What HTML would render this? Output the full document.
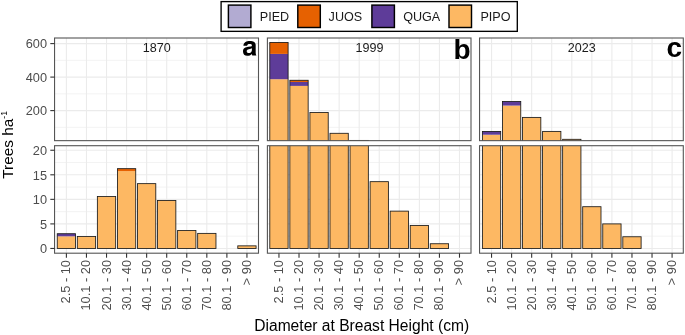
<!DOCTYPE html>
<html><head><meta charset="utf-8"><style>
html,body{margin:0;padding:0;background:#fff;width:685px;height:335px;overflow:hidden;}
svg{display:block;will-change:transform;font-family:"Liberation Sans",sans-serif;}
</style></head><body>
<svg width="685" height="335" viewBox="0 0 685 335">
<defs>
<clipPath id="ct0"><rect x="54.55" y="38.0" width="203.95" height="102.65"/></clipPath>
<clipPath id="cb0"><rect x="54.55" y="145.7" width="203.95" height="107.5"/></clipPath>
<clipPath id="ct1"><rect x="267.4" y="38.0" width="203.60" height="102.65"/></clipPath>
<clipPath id="cb1"><rect x="267.4" y="145.7" width="203.60" height="107.5"/></clipPath>
<clipPath id="ct2"><rect x="479.55" y="38.0" width="203.75" height="102.65"/></clipPath>
<clipPath id="cb2"><rect x="479.55" y="145.7" width="203.75" height="107.5"/></clipPath>
</defs>
<rect width="685" height="335" fill="#fff"/>
<line x1="54.55" x2="258.5" y1="127.35" y2="127.35" stroke="#EBEBEB" stroke-width="0.6"/><line x1="54.55" x2="258.5" y1="93.85" y2="93.85" stroke="#EBEBEB" stroke-width="0.6"/><line x1="54.55" x2="258.5" y1="60.35" y2="60.35" stroke="#EBEBEB" stroke-width="0.6"/><line x1="54.55" x2="258.5" y1="110.60" y2="110.60" stroke="#EBEBEB" stroke-width="1.1"/><line x1="54.55" x2="258.5" y1="77.10" y2="77.10" stroke="#EBEBEB" stroke-width="1.1"/><line x1="54.55" x2="258.5" y1="43.60" y2="43.60" stroke="#EBEBEB" stroke-width="1.1"/><line x1="66.40" x2="66.40" y1="38.0" y2="140.65" stroke="#EBEBEB" stroke-width="1.1"/><line x1="86.46" x2="86.46" y1="38.0" y2="140.65" stroke="#EBEBEB" stroke-width="1.1"/><line x1="106.52" x2="106.52" y1="38.0" y2="140.65" stroke="#EBEBEB" stroke-width="1.1"/><line x1="126.58" x2="126.58" y1="38.0" y2="140.65" stroke="#EBEBEB" stroke-width="1.1"/><line x1="146.64" x2="146.64" y1="38.0" y2="140.65" stroke="#EBEBEB" stroke-width="1.1"/><line x1="166.70" x2="166.70" y1="38.0" y2="140.65" stroke="#EBEBEB" stroke-width="1.1"/><line x1="186.76" x2="186.76" y1="38.0" y2="140.65" stroke="#EBEBEB" stroke-width="1.1"/><line x1="206.82" x2="206.82" y1="38.0" y2="140.65" stroke="#EBEBEB" stroke-width="1.1"/><line x1="226.88" x2="226.88" y1="38.0" y2="140.65" stroke="#EBEBEB" stroke-width="1.1"/><line x1="246.94" x2="246.94" y1="38.0" y2="140.65" stroke="#EBEBEB" stroke-width="1.1"/>
<g clip-path="url(#ct0)"><rect x="57.25" y="143.69" width="18.3" height="1.96" fill="#FDB863"/><rect x="57.25" y="143.60" width="18.3" height="0.09" fill="#5E3C99"/><rect x="57.25" y="143.60" width="18.3" height="2.05" fill="none" stroke="#1A1A1A" stroke-width="0.85"/><rect x="77.31" y="143.69" width="18.3" height="1.96" fill="#FDB863"/><rect x="77.31" y="143.69" width="18.3" height="1.96" fill="none" stroke="#1A1A1A" stroke-width="0.85"/><rect x="97.37" y="142.33" width="18.3" height="3.32" fill="#FDB863"/><rect x="97.37" y="142.33" width="18.3" height="3.32" fill="none" stroke="#1A1A1A" stroke-width="0.85"/><rect x="117.43" y="141.46" width="18.3" height="4.19" fill="#FDB863"/><rect x="117.43" y="141.38" width="18.3" height="0.08" fill="#E66101"/><rect x="117.43" y="141.38" width="18.3" height="4.27" fill="none" stroke="#1A1A1A" stroke-width="0.85"/><rect x="137.49" y="141.89" width="18.3" height="3.76" fill="#FDB863"/><rect x="137.49" y="141.89" width="18.3" height="3.76" fill="none" stroke="#1A1A1A" stroke-width="0.85"/><rect x="157.55" y="142.46" width="18.3" height="3.19" fill="#FDB863"/><rect x="157.55" y="142.46" width="18.3" height="3.19" fill="none" stroke="#1A1A1A" stroke-width="0.85"/><rect x="177.61" y="143.49" width="18.3" height="2.16" fill="#FDB863"/><rect x="177.61" y="143.49" width="18.3" height="2.16" fill="none" stroke="#1A1A1A" stroke-width="0.85"/><rect x="197.67" y="143.59" width="18.3" height="2.06" fill="#FDB863"/><rect x="197.67" y="143.59" width="18.3" height="2.06" fill="none" stroke="#1A1A1A" stroke-width="0.85"/><rect x="237.79" y="144.01" width="18.3" height="1.64" fill="#FDB863"/><rect x="237.79" y="144.01" width="18.3" height="1.64" fill="none" stroke="#1A1A1A" stroke-width="0.85"/></g>
<line x1="54.55" x2="258.5" y1="236.17" y2="236.17" stroke="#EBEBEB" stroke-width="0.6"/><line x1="54.55" x2="258.5" y1="211.62" y2="211.62" stroke="#EBEBEB" stroke-width="0.6"/><line x1="54.55" x2="258.5" y1="187.07" y2="187.07" stroke="#EBEBEB" stroke-width="0.6"/><line x1="54.55" x2="258.5" y1="162.52" y2="162.52" stroke="#EBEBEB" stroke-width="0.6"/><line x1="54.55" x2="258.5" y1="248.45" y2="248.45" stroke="#EBEBEB" stroke-width="1.1"/><line x1="54.55" x2="258.5" y1="223.90" y2="223.90" stroke="#EBEBEB" stroke-width="1.1"/><line x1="54.55" x2="258.5" y1="199.35" y2="199.35" stroke="#EBEBEB" stroke-width="1.1"/><line x1="54.55" x2="258.5" y1="174.80" y2="174.80" stroke="#EBEBEB" stroke-width="1.1"/><line x1="54.55" x2="258.5" y1="150.25" y2="150.25" stroke="#EBEBEB" stroke-width="1.1"/><line x1="66.40" x2="66.40" y1="145.7" y2="253.2" stroke="#EBEBEB" stroke-width="1.1"/><line x1="86.46" x2="86.46" y1="145.7" y2="253.2" stroke="#EBEBEB" stroke-width="1.1"/><line x1="106.52" x2="106.52" y1="145.7" y2="253.2" stroke="#EBEBEB" stroke-width="1.1"/><line x1="126.58" x2="126.58" y1="145.7" y2="253.2" stroke="#EBEBEB" stroke-width="1.1"/><line x1="146.64" x2="146.64" y1="145.7" y2="253.2" stroke="#EBEBEB" stroke-width="1.1"/><line x1="166.70" x2="166.70" y1="145.7" y2="253.2" stroke="#EBEBEB" stroke-width="1.1"/><line x1="186.76" x2="186.76" y1="145.7" y2="253.2" stroke="#EBEBEB" stroke-width="1.1"/><line x1="206.82" x2="206.82" y1="145.7" y2="253.2" stroke="#EBEBEB" stroke-width="1.1"/><line x1="226.88" x2="226.88" y1="145.7" y2="253.2" stroke="#EBEBEB" stroke-width="1.1"/><line x1="246.94" x2="246.94" y1="145.7" y2="253.2" stroke="#EBEBEB" stroke-width="1.1"/>
<g clip-path="url(#cb0)"><rect x="57.25" y="236.32" width="18.3" height="12.13" fill="#FDB863"/><rect x="57.25" y="233.72" width="18.3" height="2.60" fill="#5E3C99"/><rect x="57.25" y="233.72" width="18.3" height="14.73" fill="none" stroke="#1A1A1A" stroke-width="0.85"/><rect x="77.31" y="236.52" width="18.3" height="11.93" fill="#FDB863"/><rect x="77.31" y="236.52" width="18.3" height="11.93" fill="none" stroke="#1A1A1A" stroke-width="0.85"/><rect x="97.37" y="196.55" width="18.3" height="51.90" fill="#FDB863"/><rect x="97.37" y="196.55" width="18.3" height="51.90" fill="none" stroke="#1A1A1A" stroke-width="0.85"/><rect x="117.43" y="171.12" width="18.3" height="77.33" fill="#FDB863"/><rect x="117.43" y="168.66" width="18.3" height="2.46" fill="#E66101"/><rect x="117.43" y="168.66" width="18.3" height="79.79" fill="none" stroke="#1A1A1A" stroke-width="0.85"/><rect x="137.49" y="183.64" width="18.3" height="64.81" fill="#FDB863"/><rect x="137.49" y="183.64" width="18.3" height="64.81" fill="none" stroke="#1A1A1A" stroke-width="0.85"/><rect x="157.55" y="200.43" width="18.3" height="48.02" fill="#FDB863"/><rect x="157.55" y="200.43" width="18.3" height="48.02" fill="none" stroke="#1A1A1A" stroke-width="0.85"/><rect x="177.61" y="230.48" width="18.3" height="17.97" fill="#FDB863"/><rect x="177.61" y="230.48" width="18.3" height="17.97" fill="none" stroke="#1A1A1A" stroke-width="0.85"/><rect x="197.67" y="233.38" width="18.3" height="15.07" fill="#FDB863"/><rect x="197.67" y="233.38" width="18.3" height="15.07" fill="none" stroke="#1A1A1A" stroke-width="0.85"/><rect x="237.79" y="245.85" width="18.3" height="2.60" fill="#FDB863"/><rect x="237.79" y="245.85" width="18.3" height="2.60" fill="none" stroke="#1A1A1A" stroke-width="0.85"/></g>
<rect x="54.55" y="38.0" width="203.95" height="102.65" fill="none" stroke="#555555" stroke-width="1.1"/>
<rect x="54.55" y="145.7" width="203.95" height="107.5" fill="none" stroke="#555555" stroke-width="1.1"/>
<line x1="66.40" x2="66.40" y1="253.2" y2="257.7" stroke="#333333" stroke-width="1.1"/><line x1="86.46" x2="86.46" y1="253.2" y2="257.7" stroke="#333333" stroke-width="1.1"/><line x1="106.52" x2="106.52" y1="253.2" y2="257.7" stroke="#333333" stroke-width="1.1"/><line x1="126.58" x2="126.58" y1="253.2" y2="257.7" stroke="#333333" stroke-width="1.1"/><line x1="146.64" x2="146.64" y1="253.2" y2="257.7" stroke="#333333" stroke-width="1.1"/><line x1="166.70" x2="166.70" y1="253.2" y2="257.7" stroke="#333333" stroke-width="1.1"/><line x1="186.76" x2="186.76" y1="253.2" y2="257.7" stroke="#333333" stroke-width="1.1"/><line x1="206.82" x2="206.82" y1="253.2" y2="257.7" stroke="#333333" stroke-width="1.1"/><line x1="226.88" x2="226.88" y1="253.2" y2="257.7" stroke="#333333" stroke-width="1.1"/><line x1="246.94" x2="246.94" y1="253.2" y2="257.7" stroke="#333333" stroke-width="1.1"/>
<line x1="267.4" x2="471.0" y1="127.35" y2="127.35" stroke="#EBEBEB" stroke-width="0.6"/><line x1="267.4" x2="471.0" y1="93.85" y2="93.85" stroke="#EBEBEB" stroke-width="0.6"/><line x1="267.4" x2="471.0" y1="60.35" y2="60.35" stroke="#EBEBEB" stroke-width="0.6"/><line x1="267.4" x2="471.0" y1="110.60" y2="110.60" stroke="#EBEBEB" stroke-width="1.1"/><line x1="267.4" x2="471.0" y1="77.10" y2="77.10" stroke="#EBEBEB" stroke-width="1.1"/><line x1="267.4" x2="471.0" y1="43.60" y2="43.60" stroke="#EBEBEB" stroke-width="1.1"/><line x1="278.95" x2="278.95" y1="38.0" y2="140.65" stroke="#EBEBEB" stroke-width="1.1"/><line x1="299.01" x2="299.01" y1="38.0" y2="140.65" stroke="#EBEBEB" stroke-width="1.1"/><line x1="319.07" x2="319.07" y1="38.0" y2="140.65" stroke="#EBEBEB" stroke-width="1.1"/><line x1="339.13" x2="339.13" y1="38.0" y2="140.65" stroke="#EBEBEB" stroke-width="1.1"/><line x1="359.19" x2="359.19" y1="38.0" y2="140.65" stroke="#EBEBEB" stroke-width="1.1"/><line x1="379.25" x2="379.25" y1="38.0" y2="140.65" stroke="#EBEBEB" stroke-width="1.1"/><line x1="399.31" x2="399.31" y1="38.0" y2="140.65" stroke="#EBEBEB" stroke-width="1.1"/><line x1="419.37" x2="419.37" y1="38.0" y2="140.65" stroke="#EBEBEB" stroke-width="1.1"/><line x1="439.43" x2="439.43" y1="38.0" y2="140.65" stroke="#EBEBEB" stroke-width="1.1"/><line x1="459.49" x2="459.49" y1="38.0" y2="140.65" stroke="#EBEBEB" stroke-width="1.1"/>
<g clip-path="url(#ct1)"><rect x="269.80" y="79.19" width="18.3" height="66.46" fill="#FDB863"/><rect x="269.80" y="53.90" width="18.3" height="25.29" fill="#5E3C99"/><rect x="269.80" y="42.43" width="18.3" height="11.47" fill="#E66101"/><rect x="269.80" y="42.43" width="18.3" height="103.22" fill="none" stroke="#1A1A1A" stroke-width="0.85"/><rect x="289.86" y="85.89" width="18.3" height="59.76" fill="#FDB863"/><rect x="289.86" y="82.01" width="18.3" height="3.89" fill="#5E3C99"/><rect x="289.86" y="80.28" width="18.3" height="1.73" fill="#E66101"/><rect x="289.86" y="80.28" width="18.3" height="65.37" fill="none" stroke="#1A1A1A" stroke-width="0.85"/><rect x="309.92" y="112.49" width="18.3" height="33.16" fill="#FDB863"/><rect x="309.92" y="112.49" width="18.3" height="33.16" fill="none" stroke="#1A1A1A" stroke-width="0.85"/><rect x="329.98" y="133.30" width="18.3" height="12.35" fill="#FDB863"/><rect x="329.98" y="133.30" width="18.3" height="12.35" fill="none" stroke="#1A1A1A" stroke-width="0.85"/><rect x="350.04" y="140.41" width="18.3" height="5.24" fill="#FDB863"/><rect x="350.04" y="140.41" width="18.3" height="5.24" fill="none" stroke="#1A1A1A" stroke-width="0.85"/><rect x="370.10" y="141.82" width="18.3" height="3.83" fill="#FDB863"/><rect x="370.10" y="141.82" width="18.3" height="3.83" fill="none" stroke="#1A1A1A" stroke-width="0.85"/><rect x="390.16" y="142.83" width="18.3" height="2.82" fill="#FDB863"/><rect x="390.16" y="142.83" width="18.3" height="2.82" fill="none" stroke="#1A1A1A" stroke-width="0.85"/><rect x="410.22" y="143.32" width="18.3" height="2.33" fill="#FDB863"/><rect x="410.22" y="143.32" width="18.3" height="2.33" fill="none" stroke="#1A1A1A" stroke-width="0.85"/><rect x="430.28" y="143.94" width="18.3" height="1.71" fill="#FDB863"/><rect x="430.28" y="143.94" width="18.3" height="1.71" fill="none" stroke="#1A1A1A" stroke-width="0.85"/></g>
<line x1="267.4" x2="471.0" y1="236.17" y2="236.17" stroke="#EBEBEB" stroke-width="0.6"/><line x1="267.4" x2="471.0" y1="211.62" y2="211.62" stroke="#EBEBEB" stroke-width="0.6"/><line x1="267.4" x2="471.0" y1="187.07" y2="187.07" stroke="#EBEBEB" stroke-width="0.6"/><line x1="267.4" x2="471.0" y1="162.52" y2="162.52" stroke="#EBEBEB" stroke-width="0.6"/><line x1="267.4" x2="471.0" y1="248.45" y2="248.45" stroke="#EBEBEB" stroke-width="1.1"/><line x1="267.4" x2="471.0" y1="223.90" y2="223.90" stroke="#EBEBEB" stroke-width="1.1"/><line x1="267.4" x2="471.0" y1="199.35" y2="199.35" stroke="#EBEBEB" stroke-width="1.1"/><line x1="267.4" x2="471.0" y1="174.80" y2="174.80" stroke="#EBEBEB" stroke-width="1.1"/><line x1="267.4" x2="471.0" y1="150.25" y2="150.25" stroke="#EBEBEB" stroke-width="1.1"/><line x1="278.95" x2="278.95" y1="145.7" y2="253.2" stroke="#EBEBEB" stroke-width="1.1"/><line x1="299.01" x2="299.01" y1="145.7" y2="253.2" stroke="#EBEBEB" stroke-width="1.1"/><line x1="319.07" x2="319.07" y1="145.7" y2="253.2" stroke="#EBEBEB" stroke-width="1.1"/><line x1="339.13" x2="339.13" y1="145.7" y2="253.2" stroke="#EBEBEB" stroke-width="1.1"/><line x1="359.19" x2="359.19" y1="145.7" y2="253.2" stroke="#EBEBEB" stroke-width="1.1"/><line x1="379.25" x2="379.25" y1="145.7" y2="253.2" stroke="#EBEBEB" stroke-width="1.1"/><line x1="399.31" x2="399.31" y1="145.7" y2="253.2" stroke="#EBEBEB" stroke-width="1.1"/><line x1="419.37" x2="419.37" y1="145.7" y2="253.2" stroke="#EBEBEB" stroke-width="1.1"/><line x1="439.43" x2="439.43" y1="145.7" y2="253.2" stroke="#EBEBEB" stroke-width="1.1"/><line x1="459.49" x2="459.49" y1="145.7" y2="253.2" stroke="#EBEBEB" stroke-width="1.1"/>
<g clip-path="url(#cb1)"><rect x="269.80" y="-1654.17" width="18.3" height="1902.62" fill="#FDB863"/><rect x="269.80" y="-2395.59" width="18.3" height="741.41" fill="#5E3C99"/><rect x="269.80" y="-2731.92" width="18.3" height="336.34" fill="#E66101"/><rect x="269.80" y="-2731.92" width="18.3" height="2980.37" fill="none" stroke="#1A1A1A" stroke-width="0.85"/><rect x="289.86" y="-1457.78" width="18.3" height="1706.23" fill="#FDB863"/><rect x="289.86" y="-1571.69" width="18.3" height="113.91" fill="#5E3C99"/><rect x="289.86" y="-1622.26" width="18.3" height="50.57" fill="#E66101"/><rect x="289.86" y="-1622.26" width="18.3" height="1870.71" fill="none" stroke="#1A1A1A" stroke-width="0.85"/><rect x="309.92" y="-678.07" width="18.3" height="926.52" fill="#FDB863"/><rect x="309.92" y="-678.07" width="18.3" height="926.52" fill="none" stroke="#1A1A1A" stroke-width="0.85"/><rect x="329.98" y="-68.25" width="18.3" height="316.69" fill="#FDB863"/><rect x="329.98" y="-68.25" width="18.3" height="316.69" fill="none" stroke="#1A1A1A" stroke-width="0.85"/><rect x="350.04" y="140.43" width="18.3" height="108.02" fill="#FDB863"/><rect x="350.04" y="140.43" width="18.3" height="108.02" fill="none" stroke="#1A1A1A" stroke-width="0.85"/><rect x="370.10" y="181.67" width="18.3" height="66.78" fill="#FDB863"/><rect x="370.10" y="181.67" width="18.3" height="66.78" fill="none" stroke="#1A1A1A" stroke-width="0.85"/><rect x="390.16" y="211.13" width="18.3" height="37.32" fill="#FDB863"/><rect x="390.16" y="211.13" width="18.3" height="37.32" fill="none" stroke="#1A1A1A" stroke-width="0.85"/><rect x="410.22" y="225.52" width="18.3" height="22.93" fill="#FDB863"/><rect x="410.22" y="225.52" width="18.3" height="22.93" fill="none" stroke="#1A1A1A" stroke-width="0.85"/><rect x="430.28" y="243.74" width="18.3" height="4.71" fill="#FDB863"/><rect x="430.28" y="243.74" width="18.3" height="4.71" fill="none" stroke="#1A1A1A" stroke-width="0.85"/></g>
<rect x="267.4" y="38.0" width="203.60" height="102.65" fill="none" stroke="#555555" stroke-width="1.1"/>
<rect x="267.4" y="145.7" width="203.60" height="107.5" fill="none" stroke="#555555" stroke-width="1.1"/>
<line x1="278.95" x2="278.95" y1="253.2" y2="257.7" stroke="#333333" stroke-width="1.1"/><line x1="299.01" x2="299.01" y1="253.2" y2="257.7" stroke="#333333" stroke-width="1.1"/><line x1="319.07" x2="319.07" y1="253.2" y2="257.7" stroke="#333333" stroke-width="1.1"/><line x1="339.13" x2="339.13" y1="253.2" y2="257.7" stroke="#333333" stroke-width="1.1"/><line x1="359.19" x2="359.19" y1="253.2" y2="257.7" stroke="#333333" stroke-width="1.1"/><line x1="379.25" x2="379.25" y1="253.2" y2="257.7" stroke="#333333" stroke-width="1.1"/><line x1="399.31" x2="399.31" y1="253.2" y2="257.7" stroke="#333333" stroke-width="1.1"/><line x1="419.37" x2="419.37" y1="253.2" y2="257.7" stroke="#333333" stroke-width="1.1"/><line x1="439.43" x2="439.43" y1="253.2" y2="257.7" stroke="#333333" stroke-width="1.1"/><line x1="459.49" x2="459.49" y1="253.2" y2="257.7" stroke="#333333" stroke-width="1.1"/>
<line x1="479.55" x2="683.3" y1="127.35" y2="127.35" stroke="#EBEBEB" stroke-width="0.6"/><line x1="479.55" x2="683.3" y1="93.85" y2="93.85" stroke="#EBEBEB" stroke-width="0.6"/><line x1="479.55" x2="683.3" y1="60.35" y2="60.35" stroke="#EBEBEB" stroke-width="0.6"/><line x1="479.55" x2="683.3" y1="110.60" y2="110.60" stroke="#EBEBEB" stroke-width="1.1"/><line x1="479.55" x2="683.3" y1="77.10" y2="77.10" stroke="#EBEBEB" stroke-width="1.1"/><line x1="479.55" x2="683.3" y1="43.60" y2="43.60" stroke="#EBEBEB" stroke-width="1.1"/><line x1="491.55" x2="491.55" y1="38.0" y2="140.65" stroke="#EBEBEB" stroke-width="1.1"/><line x1="511.61" x2="511.61" y1="38.0" y2="140.65" stroke="#EBEBEB" stroke-width="1.1"/><line x1="531.67" x2="531.67" y1="38.0" y2="140.65" stroke="#EBEBEB" stroke-width="1.1"/><line x1="551.73" x2="551.73" y1="38.0" y2="140.65" stroke="#EBEBEB" stroke-width="1.1"/><line x1="571.79" x2="571.79" y1="38.0" y2="140.65" stroke="#EBEBEB" stroke-width="1.1"/><line x1="591.85" x2="591.85" y1="38.0" y2="140.65" stroke="#EBEBEB" stroke-width="1.1"/><line x1="611.91" x2="611.91" y1="38.0" y2="140.65" stroke="#EBEBEB" stroke-width="1.1"/><line x1="631.97" x2="631.97" y1="38.0" y2="140.65" stroke="#EBEBEB" stroke-width="1.1"/><line x1="652.03" x2="652.03" y1="38.0" y2="140.65" stroke="#EBEBEB" stroke-width="1.1"/><line x1="672.09" x2="672.09" y1="38.0" y2="140.65" stroke="#EBEBEB" stroke-width="1.1"/>
<g clip-path="url(#ct2)"><rect x="482.40" y="134.72" width="18.3" height="10.93" fill="#FDB863"/><rect x="482.40" y="131.45" width="18.3" height="3.27" fill="#5E3C99"/><rect x="482.40" y="131.45" width="18.3" height="14.20" fill="none" stroke="#1A1A1A" stroke-width="0.85"/><rect x="502.46" y="105.57" width="18.3" height="40.08" fill="#FDB863"/><rect x="502.46" y="101.55" width="18.3" height="4.02" fill="#5E3C99"/><rect x="502.46" y="101.55" width="18.3" height="44.10" fill="none" stroke="#1A1A1A" stroke-width="0.85"/><rect x="522.52" y="117.40" width="18.3" height="28.25" fill="#FDB863"/><rect x="522.52" y="117.40" width="18.3" height="28.25" fill="none" stroke="#1A1A1A" stroke-width="0.85"/><rect x="542.58" y="131.40" width="18.3" height="14.25" fill="#FDB863"/><rect x="542.58" y="131.40" width="18.3" height="14.25" fill="none" stroke="#1A1A1A" stroke-width="0.85"/><rect x="562.64" y="139.31" width="18.3" height="6.34" fill="#FDB863"/><rect x="562.64" y="139.31" width="18.3" height="6.34" fill="none" stroke="#1A1A1A" stroke-width="0.85"/><rect x="582.70" y="142.68" width="18.3" height="2.97" fill="#FDB863"/><rect x="582.70" y="142.68" width="18.3" height="2.97" fill="none" stroke="#1A1A1A" stroke-width="0.85"/><rect x="602.76" y="143.26" width="18.3" height="2.39" fill="#FDB863"/><rect x="602.76" y="143.26" width="18.3" height="2.39" fill="none" stroke="#1A1A1A" stroke-width="0.85"/><rect x="622.82" y="143.70" width="18.3" height="1.95" fill="#FDB863"/><rect x="622.82" y="143.70" width="18.3" height="1.95" fill="none" stroke="#1A1A1A" stroke-width="0.85"/></g>
<line x1="479.55" x2="683.3" y1="236.17" y2="236.17" stroke="#EBEBEB" stroke-width="0.6"/><line x1="479.55" x2="683.3" y1="211.62" y2="211.62" stroke="#EBEBEB" stroke-width="0.6"/><line x1="479.55" x2="683.3" y1="187.07" y2="187.07" stroke="#EBEBEB" stroke-width="0.6"/><line x1="479.55" x2="683.3" y1="162.52" y2="162.52" stroke="#EBEBEB" stroke-width="0.6"/><line x1="479.55" x2="683.3" y1="248.45" y2="248.45" stroke="#EBEBEB" stroke-width="1.1"/><line x1="479.55" x2="683.3" y1="223.90" y2="223.90" stroke="#EBEBEB" stroke-width="1.1"/><line x1="479.55" x2="683.3" y1="199.35" y2="199.35" stroke="#EBEBEB" stroke-width="1.1"/><line x1="479.55" x2="683.3" y1="174.80" y2="174.80" stroke="#EBEBEB" stroke-width="1.1"/><line x1="479.55" x2="683.3" y1="150.25" y2="150.25" stroke="#EBEBEB" stroke-width="1.1"/><line x1="491.55" x2="491.55" y1="145.7" y2="253.2" stroke="#EBEBEB" stroke-width="1.1"/><line x1="511.61" x2="511.61" y1="145.7" y2="253.2" stroke="#EBEBEB" stroke-width="1.1"/><line x1="531.67" x2="531.67" y1="145.7" y2="253.2" stroke="#EBEBEB" stroke-width="1.1"/><line x1="551.73" x2="551.73" y1="145.7" y2="253.2" stroke="#EBEBEB" stroke-width="1.1"/><line x1="571.79" x2="571.79" y1="145.7" y2="253.2" stroke="#EBEBEB" stroke-width="1.1"/><line x1="591.85" x2="591.85" y1="145.7" y2="253.2" stroke="#EBEBEB" stroke-width="1.1"/><line x1="611.91" x2="611.91" y1="145.7" y2="253.2" stroke="#EBEBEB" stroke-width="1.1"/><line x1="631.97" x2="631.97" y1="145.7" y2="253.2" stroke="#EBEBEB" stroke-width="1.1"/><line x1="652.03" x2="652.03" y1="145.7" y2="253.2" stroke="#EBEBEB" stroke-width="1.1"/><line x1="672.09" x2="672.09" y1="145.7" y2="253.2" stroke="#EBEBEB" stroke-width="1.1"/>
<g clip-path="url(#cb2)"><rect x="482.40" y="-26.51" width="18.3" height="274.96" fill="#FDB863"/><rect x="482.40" y="-122.25" width="18.3" height="95.74" fill="#5E3C99"/><rect x="482.40" y="-122.25" width="18.3" height="370.70" fill="none" stroke="#1A1A1A" stroke-width="0.85"/><rect x="502.46" y="-880.85" width="18.3" height="1129.30" fill="#FDB863"/><rect x="502.46" y="-998.69" width="18.3" height="117.84" fill="#5E3C99"/><rect x="502.46" y="-998.69" width="18.3" height="1247.14" fill="none" stroke="#1A1A1A" stroke-width="0.85"/><rect x="522.52" y="-534.20" width="18.3" height="782.65" fill="#FDB863"/><rect x="522.52" y="-534.20" width="18.3" height="782.65" fill="none" stroke="#1A1A1A" stroke-width="0.85"/><rect x="542.58" y="-123.73" width="18.3" height="372.18" fill="#FDB863"/><rect x="542.58" y="-123.73" width="18.3" height="372.18" fill="none" stroke="#1A1A1A" stroke-width="0.85"/><rect x="562.64" y="108.02" width="18.3" height="140.43" fill="#FDB863"/><rect x="562.64" y="108.02" width="18.3" height="140.43" fill="none" stroke="#1A1A1A" stroke-width="0.85"/><rect x="582.70" y="206.71" width="18.3" height="41.74" fill="#FDB863"/><rect x="582.70" y="206.71" width="18.3" height="41.74" fill="none" stroke="#1A1A1A" stroke-width="0.85"/><rect x="602.76" y="223.90" width="18.3" height="24.55" fill="#FDB863"/><rect x="602.76" y="223.90" width="18.3" height="24.55" fill="none" stroke="#1A1A1A" stroke-width="0.85"/><rect x="622.82" y="236.76" width="18.3" height="11.69" fill="#FDB863"/><rect x="622.82" y="236.76" width="18.3" height="11.69" fill="none" stroke="#1A1A1A" stroke-width="0.85"/></g>
<rect x="479.55" y="38.0" width="203.75" height="102.65" fill="none" stroke="#555555" stroke-width="1.1"/>
<rect x="479.55" y="145.7" width="203.75" height="107.5" fill="none" stroke="#555555" stroke-width="1.1"/>
<line x1="491.55" x2="491.55" y1="253.2" y2="257.7" stroke="#333333" stroke-width="1.1"/><line x1="511.61" x2="511.61" y1="253.2" y2="257.7" stroke="#333333" stroke-width="1.1"/><line x1="531.67" x2="531.67" y1="253.2" y2="257.7" stroke="#333333" stroke-width="1.1"/><line x1="551.73" x2="551.73" y1="253.2" y2="257.7" stroke="#333333" stroke-width="1.1"/><line x1="571.79" x2="571.79" y1="253.2" y2="257.7" stroke="#333333" stroke-width="1.1"/><line x1="591.85" x2="591.85" y1="253.2" y2="257.7" stroke="#333333" stroke-width="1.1"/><line x1="611.91" x2="611.91" y1="253.2" y2="257.7" stroke="#333333" stroke-width="1.1"/><line x1="631.97" x2="631.97" y1="253.2" y2="257.7" stroke="#333333" stroke-width="1.1"/><line x1="652.03" x2="652.03" y1="253.2" y2="257.7" stroke="#333333" stroke-width="1.1"/><line x1="672.09" x2="672.09" y1="253.2" y2="257.7" stroke="#333333" stroke-width="1.1"/>
<line x1="50.3" x2="54.55" y1="110.60" y2="110.60" stroke="#333333" stroke-width="1.1"/><line x1="50.3" x2="54.55" y1="77.10" y2="77.10" stroke="#333333" stroke-width="1.1"/><line x1="50.3" x2="54.55" y1="43.60" y2="43.60" stroke="#333333" stroke-width="1.1"/><line x1="50.3" x2="54.55" y1="248.45" y2="248.45" stroke="#333333" stroke-width="1.1"/><line x1="50.3" x2="54.55" y1="223.90" y2="223.90" stroke="#333333" stroke-width="1.1"/><line x1="50.3" x2="54.55" y1="199.35" y2="199.35" stroke="#333333" stroke-width="1.1"/><line x1="50.3" x2="54.55" y1="174.80" y2="174.80" stroke="#333333" stroke-width="1.1"/><line x1="50.3" x2="54.55" y1="150.25" y2="150.25" stroke="#333333" stroke-width="1.1"/>
<g font-family="Liberation Sans, sans-serif"><text x="47.0" y="115.35" text-anchor="end" font-size="12.75" fill="#4D4D4D">200</text><text x="47.0" y="81.85" text-anchor="end" font-size="12.75" fill="#4D4D4D">400</text><text x="47.0" y="48.35" text-anchor="end" font-size="12.75" fill="#4D4D4D">600</text><text x="47.0" y="253.20" text-anchor="end" font-size="12.75" fill="#4D4D4D">0</text><text x="47.0" y="228.65" text-anchor="end" font-size="12.75" fill="#4D4D4D">5</text><text x="47.0" y="204.10" text-anchor="end" font-size="12.75" fill="#4D4D4D">10</text><text x="47.0" y="179.55" text-anchor="end" font-size="12.75" fill="#4D4D4D">15</text><text x="47.0" y="155.00" text-anchor="end" font-size="12.75" fill="#4D4D4D">20</text></g>
<g font-family="Liberation Sans, sans-serif"><text transform="translate(70.40,260.0) rotate(-90)" text-anchor="end" font-size="12.8" fill="#4D4D4D">2.5 - 10</text><text transform="translate(90.46,260.0) rotate(-90)" text-anchor="end" font-size="12.8" fill="#4D4D4D">10.1 - 20</text><text transform="translate(110.52,260.0) rotate(-90)" text-anchor="end" font-size="12.8" fill="#4D4D4D">20.1 - 30</text><text transform="translate(130.58,260.0) rotate(-90)" text-anchor="end" font-size="12.8" fill="#4D4D4D">30.1 - 40</text><text transform="translate(150.64,260.0) rotate(-90)" text-anchor="end" font-size="12.8" fill="#4D4D4D">40.1 - 50</text><text transform="translate(170.70,260.0) rotate(-90)" text-anchor="end" font-size="12.8" fill="#4D4D4D">50.1 - 60</text><text transform="translate(190.76,260.0) rotate(-90)" text-anchor="end" font-size="12.8" fill="#4D4D4D">60.1 - 70</text><text transform="translate(210.82,260.0) rotate(-90)" text-anchor="end" font-size="12.8" fill="#4D4D4D">70.1 - 80</text><text transform="translate(230.88,260.0) rotate(-90)" text-anchor="end" font-size="12.8" fill="#4D4D4D">80.1 - 90</text><text transform="translate(250.94,260.0) rotate(-90)" text-anchor="end" font-size="12.8" fill="#4D4D4D">&gt; 90</text><text transform="translate(282.95,260.0) rotate(-90)" text-anchor="end" font-size="12.8" fill="#4D4D4D">2.5 - 10</text><text transform="translate(303.01,260.0) rotate(-90)" text-anchor="end" font-size="12.8" fill="#4D4D4D">10.1 - 20</text><text transform="translate(323.07,260.0) rotate(-90)" text-anchor="end" font-size="12.8" fill="#4D4D4D">20.1 - 30</text><text transform="translate(343.13,260.0) rotate(-90)" text-anchor="end" font-size="12.8" fill="#4D4D4D">30.1 - 40</text><text transform="translate(363.19,260.0) rotate(-90)" text-anchor="end" font-size="12.8" fill="#4D4D4D">40.1 - 50</text><text transform="translate(383.25,260.0) rotate(-90)" text-anchor="end" font-size="12.8" fill="#4D4D4D">50.1 - 60</text><text transform="translate(403.31,260.0) rotate(-90)" text-anchor="end" font-size="12.8" fill="#4D4D4D">60.1 - 70</text><text transform="translate(423.37,260.0) rotate(-90)" text-anchor="end" font-size="12.8" fill="#4D4D4D">70.1 - 80</text><text transform="translate(443.43,260.0) rotate(-90)" text-anchor="end" font-size="12.8" fill="#4D4D4D">80.1 - 90</text><text transform="translate(463.49,260.0) rotate(-90)" text-anchor="end" font-size="12.8" fill="#4D4D4D">&gt; 90</text><text transform="translate(495.55,260.0) rotate(-90)" text-anchor="end" font-size="12.8" fill="#4D4D4D">2.5 - 10</text><text transform="translate(515.61,260.0) rotate(-90)" text-anchor="end" font-size="12.8" fill="#4D4D4D">10.1 - 20</text><text transform="translate(535.67,260.0) rotate(-90)" text-anchor="end" font-size="12.8" fill="#4D4D4D">20.1 - 30</text><text transform="translate(555.73,260.0) rotate(-90)" text-anchor="end" font-size="12.8" fill="#4D4D4D">30.1 - 40</text><text transform="translate(575.79,260.0) rotate(-90)" text-anchor="end" font-size="12.8" fill="#4D4D4D">40.1 - 50</text><text transform="translate(595.85,260.0) rotate(-90)" text-anchor="end" font-size="12.8" fill="#4D4D4D">50.1 - 60</text><text transform="translate(615.91,260.0) rotate(-90)" text-anchor="end" font-size="12.8" fill="#4D4D4D">60.1 - 70</text><text transform="translate(635.97,260.0) rotate(-90)" text-anchor="end" font-size="12.8" fill="#4D4D4D">70.1 - 80</text><text transform="translate(656.03,260.0) rotate(-90)" text-anchor="end" font-size="12.8" fill="#4D4D4D">80.1 - 90</text><text transform="translate(676.09,260.0) rotate(-90)" text-anchor="end" font-size="12.8" fill="#4D4D4D">&gt; 90</text></g>
<text x="156.83" y="52.1" text-anchor="middle" font-size="12.55" fill="#1A1A1A" font-family="Liberation Sans, sans-serif">1870</text>
<text x="369.50" y="52.1" text-anchor="middle" font-size="12.55" fill="#1A1A1A" font-family="Liberation Sans, sans-serif">1999</text>
<text x="581.72" y="52.1" text-anchor="middle" font-size="12.55" fill="#1A1A1A" font-family="Liberation Sans, sans-serif">2023</text>
<path fill="#000" fill-rule="evenodd" transform="translate(242.34,55.45) scale(0.0264,-0.0264)" d="M40 372 C48 500 160 545 280 545 C420 545 505 495 505 400 L505 115 C505 70 510 40 530 0 L375 0 C368 15 365 35 365 55 C320 5 255 -12 185 -12 C85 -12 25 50 25 150 C25 280 120 310 230 325 L310 337 C340 342 362 350 362 375 C362 420 330 435 275 435 C215 435 185 415 180 372 Z M362 270 C340 255 300 245 250 238 C185 228 165 205 165 160 C165 115 195 90 240 90 C315 90 362 140 362 210 Z"/>
<text x="470.50" y="59.3" text-anchor="end" font-size="28" font-weight="bold" fill="#000" font-family="Liberation Sans, sans-serif">b</text>
<text x="682.10" y="56.5" text-anchor="end" font-size="28" font-weight="bold" fill="#000" font-family="Liberation Sans, sans-serif">c</text>
<text x="361.7" y="331.0" text-anchor="middle" font-size="15.6" fill="#000" font-family="Liberation Sans, sans-serif">Diameter at Breast Height (cm)</text>
<text transform="translate(12.8,178.8) rotate(-90)" font-size="15.4" fill="#000" font-family="Liberation Sans, sans-serif">Trees ha<tspan font-size="8.6" dy="-5.6">-1</tspan></text>
<rect x="221.1" y="1.6" width="296.2" height="29.75" fill="#fff" stroke="#000" stroke-width="1.35"/>
<rect x="228.40" y="5.1" width="22.5" height="22.4" fill="#B2ABD2" stroke="#000" stroke-width="1.45"/>
<text x="259.80" y="20.8" font-size="12.6" fill="#1A1A1A" font-family="Liberation Sans, sans-serif">PIED</text>
<rect x="297.80" y="5.1" width="22.5" height="22.4" fill="#E66101" stroke="#000" stroke-width="1.45"/>
<text x="328.60" y="20.8" font-size="12.6" fill="#1A1A1A" font-family="Liberation Sans, sans-serif">JUOS</text>
<rect x="371.90" y="5.1" width="22.5" height="22.4" fill="#5E3C99" stroke="#000" stroke-width="1.45"/>
<text x="403.20" y="20.8" font-size="12.6" fill="#1A1A1A" font-family="Liberation Sans, sans-serif">QUGA</text>
<rect x="449.00" y="5.1" width="22.5" height="22.4" fill="#FDB863" stroke="#000" stroke-width="1.45"/>
<text x="480.40" y="20.8" font-size="12.6" fill="#1A1A1A" font-family="Liberation Sans, sans-serif">PIPO</text>
</svg>
</body></html>
